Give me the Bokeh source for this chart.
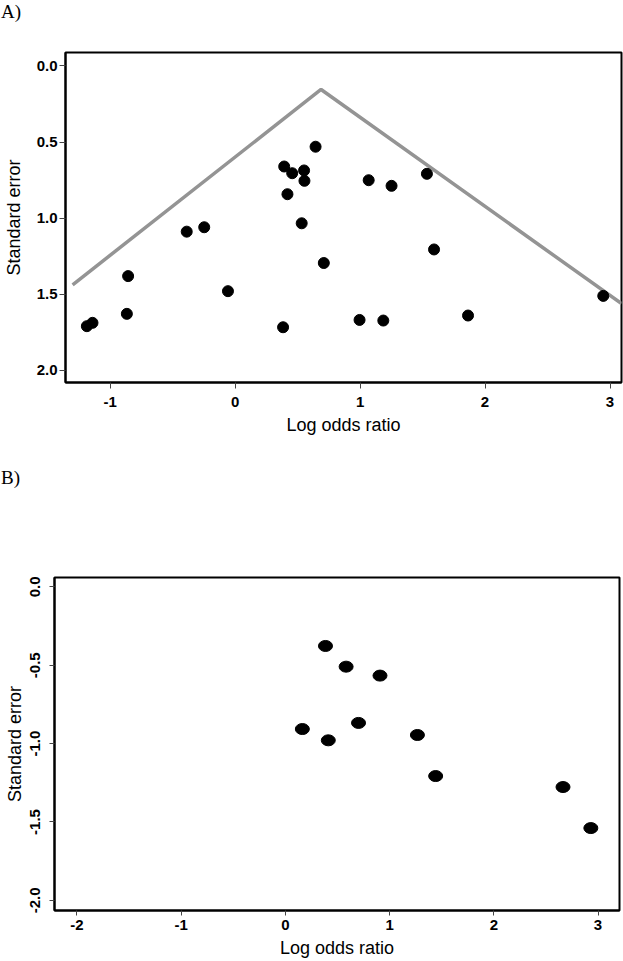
from bokeh.plotting import figure
from bokeh.models import Range1d, FixedTicker, PrintfTickFormatter, Div
from bokeh.embed import file_html
from bokeh.resources import INLINE

# ---- Panel A data ----
a_log_or = [-0.387, -0.247, 0.393, 0.457, 0.552, 0.555, 0.644, 0.419, 0.533, 1.069,
            1.252, 1.535, 1.592, -0.856, -0.866, -1.186, -1.141, -0.057, 0.710, 0.384,
            0.996, 1.186, 1.864, 2.946]
a_se = [1.089, 1.060, 0.661, 0.705, 0.687, 0.755, 0.531, 0.843, 1.034, 0.751,
        0.788, 0.709, 1.206, 1.381, 1.629, 1.710, 1.688, 1.480, 1.295, 1.717,
        1.669, 1.673, 1.640, 1.511]
a_funnel_x = [-1.30, 0.688, 3.092]
a_funnel_y = [1.438, 0.155, 1.562]
a_xticks = [-1, 0, 1, 2, 3]
a_yticks = [0.0, 0.5, 1.0, 1.5, 2.0]

# ---- Panel B data ----
b_log_or = [0.385, 0.583, 0.908, 0.163, 0.412, 0.702, 1.267, 1.442, 2.664, 2.931]
b_se = [-0.377, -0.509, -0.566, -0.907, -0.979, -0.868, -0.945, -1.207, -1.277, -1.539]
b_xticks = [-2, -1, 0, 1, 2, 3]
b_yticks = [0.0, -0.5, -1.0, -1.5, -2.0]

SANS = "Liberation Sans"
SERIF = "Liberation Serif"


def style(p, xticks, yticks):
    p.outline_line_color = "black"
    p.outline_line_width = 2
    p.outline_line_alpha = 1
    p.xgrid.visible = False
    p.ygrid.visible = False
    p.xaxis.ticker = FixedTicker(ticks=xticks)
    p.yaxis.ticker = FixedTicker(ticks=yticks)
    p.xaxis.formatter = PrintfTickFormatter(format="%d")
    p.yaxis.formatter = PrintfTickFormatter(format="%.1f")
    for ax in (p.xaxis[0], p.yaxis[0]):
        ax.axis_line_color = "black"
        ax.axis_line_width = 2
        ax.major_tick_line_color = "#444444"
        ax.major_tick_line_width = 1
        ax.major_tick_out = 6
        ax.major_tick_in = 0
        ax.minor_tick_line_color = None
        ax.major_label_text_font = SANS
        ax.major_label_text_font_style = "bold"
        ax.major_label_text_font_size = "15px"
        ax.major_label_text_color = "black"
        ax.axis_label_text_font = SANS
        ax.axis_label_text_font_style = "normal"
        ax.axis_label_text_font_size = "18px"
        ax.axis_label_text_color = "black"
    p.xaxis.axis_label = "Log odds ratio"
    p.yaxis.axis_label = "Standard error"


def panel_label(text):
    html = ('<div style="font-family: \'Liberation Serif\', serif; font-size: 19px; '
            'line-height: 19px; padding: 2px 0 0 1px; color: black; margin: 0;">'
            + text + '</div>')
    return Div(text=html, width=623, height=22, margin=(0, 0, 0, 0))


# ---- Panel A ----
div_a = panel_label("A)")
HA = 444  # page y 22 -> 466
pa = figure(width=623, height=HA, output_backend="svg", toolbar_location=None,
            x_range=Range1d(-1.357, 3.092), y_range=Range1d(2.08, -0.088),
            min_border_left=64, min_border_right=2, min_border_top=30, min_border_bottom=84)
style(pa, a_xticks, a_yticks)
pa.xaxis.major_label_standoff = 8
pa.xaxis.axis_label_standoff = 5
pa.yaxis.major_label_standoff = 2
pa.yaxis.axis_label_standoff = 10
pa.line(a_funnel_x, a_funnel_y, line_color="#949494", line_width=3.5)
pa.scatter(a_log_or, a_se, size=11, color="black")

# ---- Panel B ----
div_b = panel_label("B)")
HB = 473  # page y 488 -> 961
pb = figure(width=623, height=HB, output_backend="svg", toolbar_location=None,
            x_range=Range1d(-2.215, 3.206), y_range=Range1d(-2.065, 0.06),
            min_border_left=54, min_border_right=4, min_border_top=89, min_border_bottom=51)
style(pb, b_xticks, b_yticks)
pb.yaxis.major_label_orientation = "vertical"
pb.xaxis.major_tick_out = 5
pb.xaxis.major_label_standoff = 4
pb.xaxis.axis_label_standoff = 5
pb.yaxis.major_tick_out = 5
pb.yaxis.major_label_standoff = 9
pb.yaxis.axis_label_standoff = 3
pb.ellipse(b_log_or, b_se, width=14, height=11, width_units="screen",
           height_units="screen", color="black")

open("out.html", "w").write(file_html([div_a, pa, div_b, pb], INLINE))
